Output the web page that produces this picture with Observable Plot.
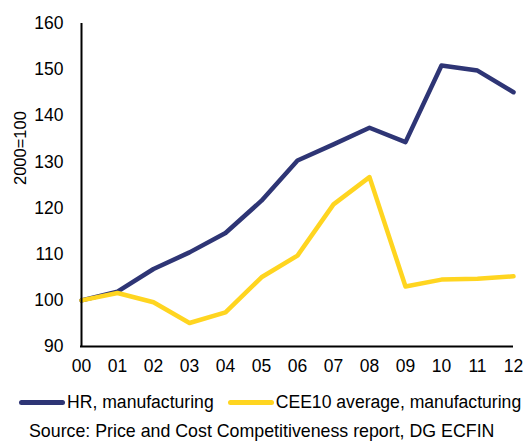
<!DOCTYPE html>
<html>
<head>
<meta charset="utf-8">
<script src="https://cdn.jsdelivr.net/npm/d3@7"></script>
<script src="https://cdn.jsdelivr.net/npm/@observablehq/plot@0.6"></script>
<style>
  html, body { margin: 0; padding: 0; background: #fff; }
  body { width: 527px; height: 441px; overflow: hidden; font-family: "Liberation Sans", Arial, sans-serif; }
  #legend { position: absolute; top: 389px; left: 19px; white-space: nowrap; font-size: 17.6px; line-height: 1.15; color: #000; }
  .item { display: inline-flex; align-items: center; margin-right: 14px; }
  .sw { display: inline-block; width: 46px; height: 5px; border-radius: 3px; margin-right: 2px; }
  #source { position: absolute; top: 423px; left: 29px; white-space: nowrap; font-size: 17.8px; line-height: 1; color: #000; }
</style>
</head>
<body>
<div id="chart"></div>
<div id="legend"></div>
<div id="source">Source: Price and Cost Competitiveness report, DG ECFIN</div>
<script>
const years = ["00","01","02","03","04","05","06","07","08","09","10","11","12"];
const hrManufacturing = [100, 101.9, 106.8, 110.4, 114.6, 121.6, 130.3, 133.8, 137.4, 134.3, 150.9, 149.8, 145.1];
const cee10Manufacturing = [100, 101.6, 99.6, 95.1, 97.4, 105.0, 109.7, 120.8, 126.7, 103.0, 104.5, 104.7, 105.2];
const seriesNames = ["HR, manufacturing", "CEE10 average, manufacturing"];
const seriesColors = ["#2E3575", "#FFD520"];
const yTicks = [90, 100, 110, 120, 130, 140, 150, 160];

const rows = [];
years.forEach((y, i) => {
  rows.push({year: y, value: hrManufacturing[i], series: seriesNames[0]});
  rows.push({year: y, value: cee10Manufacturing[i], series: seriesNames[1]});
});

const chart = Plot.plot({
  width: 527,
  height: 380,
  marginTop: 23,
  marginBottom: 34,
  marginLeft: 80,
  marginRight: 14,
  style: {fontFamily: "'Liberation Sans', Arial, sans-serif", fontSize: "17px", color: "#000", background: "#fff"},
  x: {type: "point", domain: years, padding: 0, label: null},
  y: {domain: [90, 160], ticks: yTicks, label: null},
  color: {domain: seriesNames, range: seriesColors},
  marks: [
    Plot.axisY({ticks: yTicks, tickSize: 0, tickPadding: 17, label: null, fontSize: 17.5}),
    Plot.axisX({tickSize: 0, tickPadding: 13, label: null, fontSize: 17.5}),
    Plot.text(["2000=100"], {frameAnchor: "left", dx: -60, rotate: -90, fontSize: 16.5, fill: "#000"}),
    Plot.line(rows, {x: "year", y: "value", z: "series", stroke: "series", strokeWidth: 4.5}),
    Plot.ruleX([years[0]], {stroke: "#000", strokeWidth: 2}),
    Plot.ruleY([90], {stroke: "#000", strokeWidth: 2})
  ]
});
document.getElementById("chart").appendChild(chart);

const legend = document.getElementById("legend");
seriesNames.forEach((n, i) => {
  const it = document.createElement("span");
  it.className = "item";
  const sw = document.createElement("span");
  sw.className = "sw";
  sw.style.background = seriesColors[i];
  it.appendChild(sw);
  it.appendChild(document.createTextNode(n));
  legend.appendChild(it);
});
</script>
</body>
</html>
